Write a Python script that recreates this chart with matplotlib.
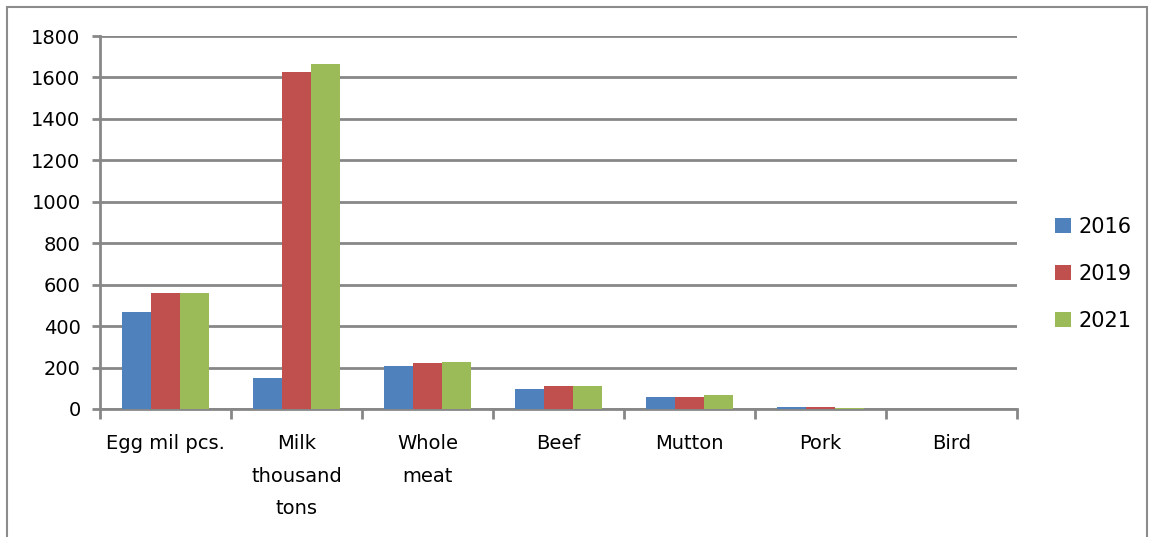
import numpy as np
import matplotlib.pyplot as plt
from matplotlib.patches import Rectangle

categories = ['Egg mil pcs.', 'Milk\nthousand\ntons', 'Whole\nmeat', 'Beef', 'Mutton', 'Pork', 'Bird']
years = ['2016', '2019', '2021']
v2016 = [468, 148, 207, 97, 60, 8, 0.5]
v2019 = [561, 1626, 222, 111, 60, 8, 0.5]
v2021 = [561, 1665, 227, 111, 68, 6, 0.5]
colors = ['#4F81BD', '#C0504D', '#9BBB59']

plt.rcParams['font.family'] = ['DejaVu Sans']
fig = plt.figure(figsize=(11.52, 5.37), dpi=100)
ax = fig.add_axes([100 / 1152, 1 - 409 / 537, (1017 - 100) / 1152, (409 - 36) / 537])

x = np.arange(len(categories))
w = 0.22
for i, (vals, c, yr) in enumerate(zip([v2016, v2019, v2021], colors, years)):
    ax.bar(x + (i - 1) * w, vals, width=w, color=c, label=yr, zorder=3)

grid_c = '#878787'
ax.set_xlim(-0.5, len(categories) - 0.5)
ax.set_ylim(0, 1800)
ax.set_yticks(range(0, 1801, 200))
ax.yaxis.grid(True, color=grid_c, linewidth=2, zorder=0)
ax.set_xticks(x)
ax.set_xticklabels(categories, fontsize=14, linespacing=1.9)
ax.set_xticks(np.arange(-0.5, len(categories)), minor=True)
ax.tick_params(axis='x', which='major', length=0, pad=18)
ax.tick_params(axis='x', which='minor', length=7, width=2, color=grid_c)
ax.tick_params(axis='y', length=6, width=2, color=grid_c, labelsize=14, pad=8)
for s in ['top', 'right']:
    ax.spines[s].set_visible(False)
for s in ['left', 'bottom']:
    ax.spines[s].set_color(grid_c)
    ax.spines[s].set_linewidth(2)

ax.legend(loc='center left', bbox_to_anchor=(1.03, 0.362), frameon=False,
          fontsize=15, handlelength=0.75, handleheight=0.75, labelspacing=1.3,
          handletextpad=0.4, borderpad=0)

fig.patches.append(Rectangle((7 / 1152, -0.01), 1140 / 1152, 1 - 7 / 537 + 0.01,
                             transform=fig.transFigure, fill=False,
                             edgecolor='#8c8c8c', linewidth=1.5))

fig.savefig('out.png', dpi=100)
